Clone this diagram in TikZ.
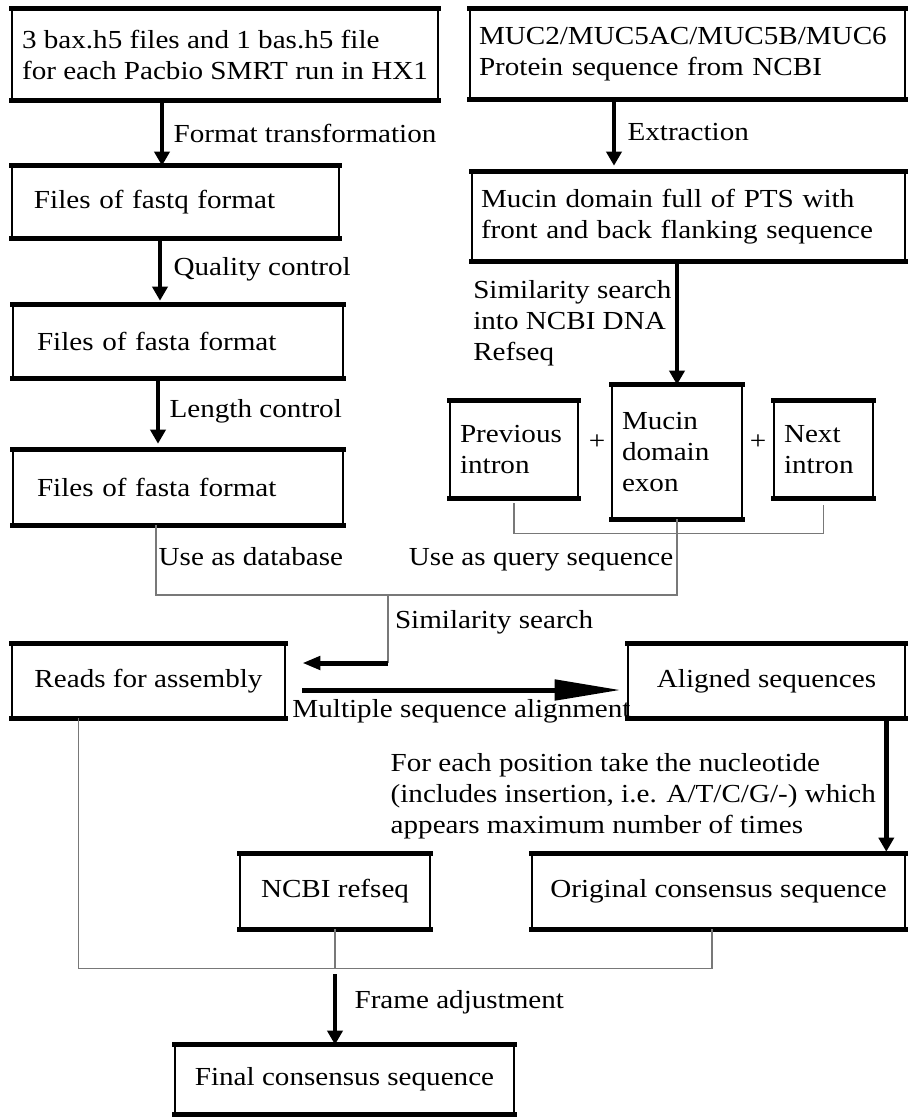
\documentclass[tikz,border=0pt]{standalone}
\usepackage{fontspec}
\setmainfont{Liberation Serif}[FakeStretch=1.12]
\usetikzlibrary{arrows.meta}
\tikzset{
    every picture/.style={
        line width=1.4pt
    },
    % Text of boxes and labels
    every node/.style={
        font=\fontsize{26pt}{31pt}\selectfont
    },
    % Boxes with heavy top and bottom rules
    process box/.style={
        draw, line width=2.6pt, align=left,
        append after command={
            (\tikzlastnode.north west) edge[line width=5pt, shorten <=-1.3pt, shorten >=-1.3pt] (\tikzlastnode.north east)
            (\tikzlastnode.south west) edge[line width=5pt, shorten <=-1.3pt, shorten >=-1.3pt] (\tikzlastnode.south east)
        }
    },
    step label/.style={align=left, text=black},
    flow arrow/.style={line width=4.5pt, -{Triangle[length=14pt,width=15pt]}},
    msa arrow/.style={line width=5pt, -{Triangle[length=66pt,width=20pt]}},
    back arrow/.style={line width=5pt, -{Triangle[length=18pt,width=13pt]}},
    link line/.style={draw=linkGray, line width=1.4pt}
}
\definecolor{linkGray}{RGB}{120,120,120}

\begin{document}
\begin{tikzpicture}[x=1pt,y=-1pt]

% Set the canvas size
\useasboundingbox (0,0) rectangle (908,1117);

% Left column: raw reads
\node[process box, minimum width=426pt, minimum height=89pt] (bax) at (225,54.5)
    {3 bax.h5 files and 1 bas.h5 file\\for each Pacbio SMRT run in HX1};
\node[process box, text width=283pt, inner xsep=22pt, minimum height=70pt] (fastq) at (175.5,202) {Files of fastq format};
\node[process box, text width=282pt, inner xsep=24pt, minimum height=71pt] (fasta1) at (178,341.5) {Files of fasta format};
\node[process box, text width=282pt, inner xsep=24pt, minimum height=73pt] (fasta2) at (178,487.5) {Files of fasta format};

% Right column: mucin query
\node[process box, text width=417pt, inner xsep=9pt, minimum height=88pt] (muc) at (687.5,54)
    {MUC2/MUC5AC/MUC5B/MUC6\\Protein sequence from NCBI};
\node[process box, text width=415pt, inner xsep=9pt, minimum height=87pt] (mucin) at (688.5,216.5)
    {Mucin domain full of PTS with\\front and back flanking sequence};
\node[process box, text width=108pt, inner xsep=10pt, minimum height=95pt] (prev) at (514,449.5) {Previous\\intron};
\node[process box, text width=110pt, inner xsep=10pt, minimum height=132pt] (exon) at (677,452) {Mucin\\domain\\exon};
\node[process box, text width=79pt, inner xsep=10pt, minimum height=95pt] (next) at (823.5,449.5) {Next\\intron};
\node (plusA) at (597,442) {+};
\node (plusB) at (758,442) {+};

% Assembly and consensus
\node[process box, minimum width=273pt, minimum height=72pt] (reads) at (148.5,681) {Reads for assembly};
\node[process box, minimum width=277pt, minimum height=72pt] (aligned) at (766.5,681) {Aligned sequences};
\node[process box, minimum width=190pt, minimum height=73pt] (ncbi) at (335,891.5) {NCBI refseq};
\node[process box, minimum width=373pt, minimum height=73pt] (orig) at (718.5,891.5) {Original consensus sequence};
\node[process box, minimum width=339pt, minimum height=67pt] (final) at (344.5,1079.5) {Final consensus sequence};

% Free labels
\node[step label, anchor=west, inner sep=0pt] (dbtext) at (158,557) {Use as database};
\node[step label, anchor=east, inner sep=0pt] (qtext) at (674,560) {Use as query sequence};
\node[step label, anchor=west, inner sep=0pt] (vote) at (390,796)
    {For each position take the nucleotide\\(includes insertion, i.e. A/T/C/G/-) which\\appears maximum number of times};

% Arrow ends and junctions
\coordinate (fmt) at ([xshift=-13.5pt]fastq.north);
\coordinate (ext) at ([xshift=-74.5pt,yshift=6pt]mucin.north);
\coordinate (qc) at ([xshift=-18pt,yshift=4pt]fasta1.north);
\coordinate (lenc) at ([xshift=-20pt,yshift=6pt]fasta2.north);
\coordinate (merge) at (388,595);
\coordinate (ssend) at ([xshift=16pt,yshift=18pt]reads.east);
\coordinate (cons) at ([xshift=-20pt,yshift=2pt]orig.north east);

% Processing steps
\draw[flow arrow] (bax.south -| fmt) -- node[step label, right=6pt] {Format transformation} (fmt);
\draw[flow arrow] (muc.south -| ext) -- node[step label, right=8pt] {Extraction} (ext);
\draw[flow arrow] (fastq.south -| qc) -- node[step label, right=8pt] {Quality control} (qc);
\draw[flow arrow] (fasta1.south -| lenc) -- node[step label, right=6pt] {Length control} (lenc);
\draw[flow arrow] (mucin.south -| exon.north) -- node[step label, left=0pt] {Similarity search\\into NCBI DNA\\Refseq} (exon.north);

% Database and query lines
\draw[link line] ([yshift=-5pt]prev.south) -- ([yshift=-35pt]prev.south) -| ([yshift=-7pt]next.south);
\draw[link line] ([xshift=-22pt]fasta2.south) |- (merge) -| (exon.south);
\draw[link line] (merge) -- node[step label, right=3pt, pos=0.4] {Similarity search} (merge |- ssend);
\draw[back arrow] (merge |- ssend) -- (ssend);

% Alignment
\draw[msa arrow] ([xshift=16pt,yshift=-9pt]reads.east) -- node[step label, below=4pt] {Multiple sequence alignment} ([xshift=-6pt,yshift=-9pt]aligned.west);
\draw[flow arrow] (aligned.south -| cons) -- (cons);

% Frame adjustment
\draw[link line] ([xshift=68pt]reads.south west) |- ([yshift=-39pt]ncbi.south) -| ([xshift=-6.5pt]orig.south);
\draw[link line] (ncbi.south) -- ([yshift=-39pt]ncbi.south);
\draw[flow arrow] ([yshift=-45pt]ncbi.south) -- node[step label, right=14pt, pos=0.4] {Frame adjustment} (ncbi.south |- final.north);

\end{tikzpicture}
\end{document}
